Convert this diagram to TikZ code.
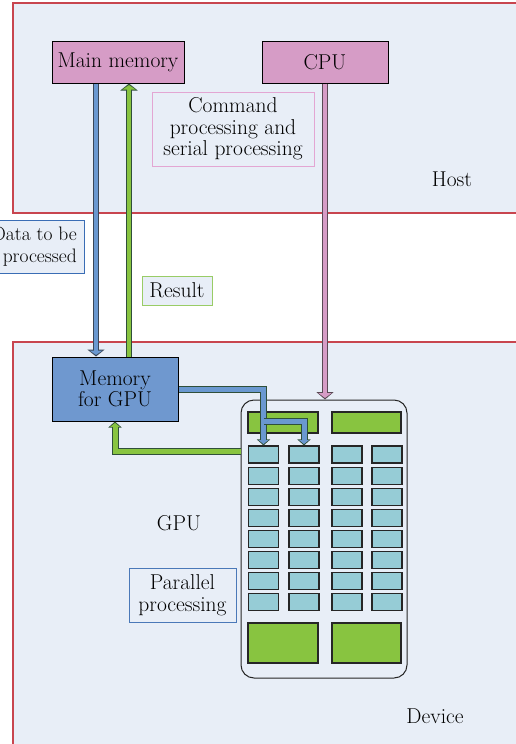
\documentclass[tikz,border=0pt]{standalone}
\usetikzlibrary{arrows.meta,calc}
\definecolor{bgblue}{HTML}{E8EEF7}
\definecolor{redb}{HTML}{C8454F}
\definecolor{pinkf}{HTML}{D69CC6}
\definecolor{pinkb}{HTML}{E3A6D3}
\definecolor{memblue}{HTML}{6F98CF}
\definecolor{arrblue}{HTML}{6A98D0}
\definecolor{greenf}{HTML}{88C440}
\definecolor{cellf}{HTML}{96CCD6}
\definecolor{datab}{HTML}{3A6DB5}
\definecolor{resb}{HTML}{99CC66}
\definecolor{parb}{HTML}{4A78B8}
\definecolor{outblue}{HTML}{3A4656}
\definecolor{outgreen}{HTML}{2F4F3A}
\definecolor{outpink}{HTML}{5A4A55}
\newcommand\fatconn[4]{%
  \draw[line width=6.4pt,#2,line join=miter,-{Triangle[length=#4pt,width=17pt]}] #3;
  \draw[line width=4pt,#1,line join=miter,shorten >=1.6pt,-{Triangle[length=#4pt-2.6pt,width=13pt]}] #3;}
\newcommand\thinconn[3]{%
  \draw[line width=7pt,#2,line join=miter,-{Triangle[length=6pt,width=13pt]}] #3;
  \draw[line width=5pt,#1,line join=miter,shorten >=1.4pt,-{Triangle[length=4pt,width=9.5pt]}] #3;}
\tikzset{
  txt/.style={font=\fontsize{21.5}{21.5}\selectfont, align=center, text=black},
  region/.style={draw=redb, line width=1.2pt, fill=bgblue},
  pinkbox/.style={txt, draw=black, line width=1pt, fill=pinkf, inner sep=0pt},
  labelbox/.style={txt, line width=1pt, fill=bgblue, inner sep=0pt},
  cell/.style={draw=black!85, line width=1.1pt, fill=cellf, minimum width=30pt, minimum height=17pt, inner sep=0pt},
  gbar/.style={draw=black!85, line width=1.1pt, fill=greenf, inner sep=0pt},
}
\begin{document}
\begin{tikzpicture}[x=1pt,y=-1pt]
\useasboundingbox (0,0) rectangle (516,744);
\fill[white] (0,0) rectangle (516,744);
% regions
\draw[region] (13,3) rectangle (540,213);
\draw[region] (13,342) rectangle (540,770);
\node[txt] (host) at (452,179) {Host};
\node[txt] (device) at (435,716) {Device};
% host boxes
\node[pinkbox, minimum width=132pt, minimum height=42pt] (mainmem) at (118,62) {Main memory};
\node[pinkbox, minimum width=126pt, minimum height=42pt] (cpu) at (325,62) {CPU};
\node[labelbox, draw=pinkb, minimum width=162pt, minimum height=74pt] (cmd) at (233,129) {Command\\processing and\\serial processing};
% labels
\node[labelbox, draw=datab, anchor=east, minimum width=100pt, minimum height=53pt, font=\fontsize{19.5}{21.5}\selectfont, align=right, inner xsep=3pt] (data) at (85,246.5) {Data to be\\processed};
\node[labelbox, draw=resb, minimum width=70pt, minimum height=29pt] (result) at (177,290.5) {Result};
% device
\node[txt, draw=black, line width=1pt, fill=memblue, minimum width=126pt, minimum height=64pt, inner sep=0pt] (memgpu) at (115,389) {Memory\\for GPU};
\node[draw=black!85, line width=1pt, fill=bgblue, rounded corners=13pt, minimum width=166pt, minimum height=278pt, inner sep=0pt] (gpu) at (324,539) {};
\node[txt] (gpulabel) at (179,523) {GPU};
\node[labelbox, draw=parb, minimum width=107pt, minimum height=54pt] (par) at (182.5,595) {Parallel\\processing};
% green bars
\node[gbar, minimum width=70pt, minimum height=21pt] (gt1) at (283,422.5) {};
\node[gbar, minimum width=69pt, minimum height=21pt] (gt2) at (366.5,422.5) {};
\node[gbar, minimum width=70pt, minimum height=40pt] (gb1) at (283,643) {};
\node[gbar, minimum width=69pt, minimum height=40pt] (gb2) at (366.5,643) {};
% cells
\foreach \c/\x in {1/263.5,2/304,3/347,4/387}{
  \foreach \r in {1,...,8}{
    \node[cell] (c\r\c) at (\x,{454.5+21.1*(\r-1)}) {};
  }
}
% coordinates for connector positions
\coordinate (xb) at (96,0);
\coordinate (xg) at (129,0);
\coordinate (br) at (264,421);
\coordinate (yg) at (0,451);
% host-device connectors
\fatconn{arrblue}{outblue}{(xb |- mainmem.south) -- (xb |- memgpu.north)}{7}
\fatconn{greenf}{outgreen}{(xg |- memgpu.north) -- (xg |- mainmem.south)}{7}
\fatconn{pinkf}{outpink}{(cpu.south) -- (cpu.south |- gpu.north)}{7.5}
% gpu connectors
\thinconn{greenf}{outgreen}{(gpu.west |- yg) -| (memgpu.south)}
\thinconn{arrblue}{outgreen}{(memgpu.east |- 0,389) -| (c11.north)}
\thinconn{arrblue}{outgreen}{(br) -| (c12.north)}
\end{tikzpicture}
\end{document}
